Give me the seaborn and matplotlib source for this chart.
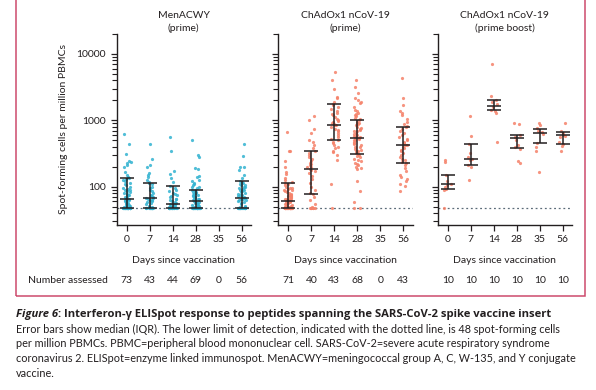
import numpy as np
import pandas as pd
import matplotlib
matplotlib.use('Agg')
import matplotlib.pyplot as plt
import seaborn as sns
from matplotlib.patches import Rectangle
from matplotlib.ticker import LogLocator, FixedLocator, NullFormatter

# Categories / labels
days = ['0', '7', '14', '28', '35', '56']
panel_titles = ['MenACWY\n(prime)', 'ChAdOx1 nCoV-19\n(prime)', 'ChAdOx1 nCoV-19\n(prime boost)']
n_men = [73, 43, 44, 69, 0, 56]
n_prime = [71, 40, 43, 68, 0, 43]
n_boost = [10, 10, 10, 10, 10, 10]
llod = 48

# MenACWY (prime) spot-forming cells per million PBMCs
men_d0 = [628, 433, 312, 245, 235, 225, 210, 200, 165, 150, 141, 135, 130, 125, 120, 115, 110, 105,
          100, 96, 92, 90, 88, 85, 82, 80, 78, 75, 74, 72, 70, 68, 67, 66, 65, 65, 64, 63, 62, 60, 58,
          57, 56, 55, 54, 53, 52, 51, 50, 50, 49] + [48] * 22
men_d7 = [443, 263, 215, 200, 160, 150, 140, 125, 118, 114, 110, 100, 95, 90, 85, 80, 76, 72, 70, 68,
          68, 66, 64, 62, 60, 58, 56, 54, 52, 50, 49] + [48] * 12
men_d14 = [558, 343, 175, 156, 135, 116, 101, 95, 90, 85, 80, 78, 75, 72, 70, 66, 65, 62, 60, 58, 56,
           55, 54, 53, 52, 51, 50, 50, 49] + [48] * 15
men_d28 = [509, 305, 278, 192, 185, 147, 140, 125, 120, 115, 110, 105, 100, 100, 95, 90, 89, 86, 84, 82,
           80, 78, 76, 74, 72, 71, 70, 68, 66, 65, 64, 63, 62, 61, 60, 59, 58, 57, 56, 55, 54, 53, 52,
           51, 50, 50, 49, 49] + [48] * 21
men_d35 = []
men_d56 = [433, 288, 200, 195, 180, 150, 135, 123, 118, 115, 110, 108, 105, 100, 98, 95, 92, 90, 88, 85,
           82, 80, 78, 76, 74, 72, 70, 68, 67, 66, 65, 63, 62, 60, 58, 56, 54, 52, 50, 49] + [48] * 16
men_med = [65, 68, 55, 61, np.nan, 67]
men_q1 = [48, 48, 48, 48, np.nan, 48]
men_q3 = [135, 114, 101, 89, np.nan, 123]

# ChAdOx1 nCoV-19 (prime)
pr_d0 = [665, 351, 340, 248, 200, 167, 155, 137, 125, 118, 115, 110, 105, 100, 97, 95, 92, 90, 88, 85,
         82, 80, 78, 76, 74, 73, 72, 70, 68, 67, 66, 65, 64, 63, 62, 61, 60, 59, 58, 57, 56, 55, 54, 53,
         52, 51, 50, 50, 49, 49] + [48] * 21
pr_d7 = [1150, 1000, 750, 640, 500, 470, 420, 380, 343, 320, 300, 278, 260, 245, 230, 220, 210, 200,
         195, 186, 180, 170, 160, 145, 130, 115, 100, 88, 80, 78, 70, 62, 55, 50] + [48] * 6
pr_d14 = [5400, 4000, 2950, 2250, 2140, 1900, 1790, 1700, 1600, 1500, 1400, 1300, 1250, 1200, 1110,
          1050, 1000, 980, 950, 900, 880, 860, 840, 800, 750, 720, 700, 650, 600, 560, 530, 498, 480,
          450, 420, 400, 380, 350, 330, 300, 250, 110, 48]
pr_d28 = [4000, 3200, 2540, 2200, 2000, 1900, 1800, 1600, 1450, 1400, 1300, 1250, 1200, 1150, 1100,
          1050, 1000, 950, 920, 900, 870, 840, 800, 780, 750, 720, 700, 680, 650, 630, 610, 590, 570,
          555, 545, 530, 510, 500, 480, 460, 440, 420, 400, 390, 370, 360, 350, 340, 330, 320, 313,
          300, 290, 278, 260, 250, 240, 230, 220, 210, 200, 190, 185, 123, 87, 58, 48, 48]
pr_d35 = []
pr_d56 = [4280, 2180, 1730, 1400, 1300, 1200, 1050, 940, 880, 830, 790, 750, 700, 650, 600, 560, 520,
          500, 470, 450, 430, 420, 400, 380, 360, 340, 320, 300, 280, 260, 250, 235, 225, 210, 190,
          170, 150, 140, 130, 120, 110, 103, 85]
pr_med = [61, 183, 860, 550, np.nan, 420]
pr_q1 = [48, 79, 498, 313, np.nan, 225]
pr_q3 = [115, 343, 1790, 1000, np.nan, 790]

# ChAdOx1 nCoV-19 (prime boost)
bo_d0 = [254, 239, 152, 120, 110, 108, 100, 92, 90, 48]
bo_d7 = [1160, 590, 433, 320, 278, 262, 255, 213, 200, 128]
bo_d14 = [7000, 2300, 2050, 1900, 1750, 1600, 1450, 1400, 1300, 470]
bo_d28 = [900, 880, 600, 560, 510, 420, 390, 365, 248, 225]
bo_d35 = [920, 840, 760, 700, 670, 630, 450, 400, 350, 165]
bo_d56 = [920, 680, 640, 600, 590, 560, 470, 440, 410, 340]
bo_med = [110, 260, 1650, 533, 650, 595]
bo_q1 = [92, 213, 1410, 381, 448, 438]
bo_q3 = [152, 433, 2050, 595, 730, 660]

groups = [
    [men_d0, men_d7, men_d14, men_d28, men_d35, men_d56],
    [pr_d0, pr_d7, pr_d14, pr_d28, pr_d35, pr_d56],
    [bo_d0, bo_d7, bo_d14, bo_d28, bo_d35, bo_d56],
]
stats = [(men_med, men_q1, men_q3), (pr_med, pr_q1, pr_q3), (bo_med, bo_q1, bo_q3)]
counts = [n_men, n_prime, n_boost]
colors = ['#33b3d1', '#f5826a', '#f5826a']

rows = []
for p, panel in enumerate(groups):
    for day, vals in zip(days, panel):
        for v in vals:
            rows.append({'panel': p, 'day': day, 'value': v})
df = pd.DataFrame(rows)

sns.set_theme(style='ticks')
plt.rcParams['font.family'] = ['Lato', 'DejaVu Sans']
plt.rcParams['font.size'] = 7.5
ink = '#231f20'

fig = plt.figure(figsize=(5.96, 3.90), dpi=100)
W, H = 596.0, 390.0
lefts = [116.5, 278.0, 437.5]
ax_w, ax_top, ax_bot = 134.5, 34.0, 225.0

np.random.seed(7)
for p in range(3):
    ax = fig.add_axes([lefts[p] / W, 1 - ax_bot / H, ax_w / W, (ax_bot - ax_top) / H])
    sub = df[df['panel'] == p]
    sns.stripplot(data=sub, x='day', y='value', order=days, color=colors[p], jitter=0.17,
                  size=2.3, alpha=0.85, linewidth=0, ax=ax, zorder=2)
    ax.set_yscale('log')
    med, q1, q3 = [np.array(s, dtype=float) for s in stats[p]]
    pos = np.arange(len(days))
    ax.errorbar(pos, med, yerr=[med - q1, q3 - med], fmt='none', ecolor=ink,
                elinewidth=1.1, capsize=5, capthick=1.1, zorder=4)
    ax.plot(pos, med, ls='none', marker='_', ms=10.5, mew=1.1, color=ink, zorder=4)
    ax.axhline(llod, color='#5b6b78', lw=0.9, ls=(0, (1.5, 2.2)), zorder=1)

    ax.set_xlim(-0.45, 5.4)
    ax.set_ylim(26.5, 20000)
    ax.yaxis.set_major_locator(FixedLocator([100, 1000, 10000]))
    ax.yaxis.set_minor_locator(LogLocator(base=10, subs=np.arange(2, 10), numticks=20))
    ax.yaxis.set_minor_formatter(NullFormatter())
    if p == 0:
        ax.set_yticklabels(['100', '1000', '10000'])
        ax.set_ylabel('Spot-forming cells per million PBMCs', fontsize=7.5, color=ink, labelpad=6)
    else:
        ax.set_yticklabels([])
        ax.set_ylabel('')
    ax.set_xlabel('Days since vaccination', fontsize=7.5, color=ink, labelpad=8)
    ax.tick_params(axis='both', which='major', length=4.5, width=0.9, colors=ink,
                   labelsize=7.5, pad=3)
    ax.tick_params(axis='y', which='minor', length=3.5, width=0.8, colors=ink)
    sns.despine(ax=ax)
    for s in ['left', 'bottom']:
        ax.spines[s].set_linewidth(1.0)
        ax.spines[s].set_color(ink)
    ax.text(0.5, 1.004, panel_titles[p], transform=ax.transAxes, ha='center', va='bottom',
            fontsize=7.5, color=ink, linespacing=1.5)
    # number assessed row
    for i, n in enumerate(counts[p]):
        ax.text(i, -0.29, str(n), transform=ax.get_xaxis_transform(), ha='center',
                va='center', fontsize=7.5, color=ink)

fig.text(28 / W, 1 - 280.5 / H, 'Number assessed', ha='left', va='center', fontsize=7.5, color=ink)

# frame around the figure panel
fig.patches.append(Rectangle((16 / W, 1 - 296 / H), (585 - 16) / W, 296 / H + 0.05,
                             transform=fig.transFigure, fill=False, edgecolor='#cd4a6c',
                             lw=1.1, clip_on=False))

# caption
cap_font = ['Lato', 'DejaVu Sans']
head_font = ['Open Sans', 'Lato', 'DejaVu Sans']
cap_size = 7.85
head_size = 8.15
x0 = 16 / W
t1 = fig.text(x0, 1 - 314 / H, 'Figure 6', ha='left', va='center', fontsize=head_size,
              fontstyle='italic', fontweight='bold', family=head_font, color=ink)
fig.canvas.draw()
bb = t1.get_window_extent()
fig.text(bb.x1 / W, 1 - 314 / H,
         ': Interferon-\u03b3 ELISpot response to peptides spanning the SARS-CoV-2 spike vaccine insert',
         ha='left', va='center', fontsize=head_size, fontweight='bold', family=head_font, color=ink)
cap_lines = [
    'Error bars show median (IQR). The lower limit of detection, indicated with the dotted line, is 48 spot-forming cells',
    'per million PBMCs. PBMC=peripheral blood mononuclear cell. SARS-CoV-2=severe acute respiratory syndrome',
    'coronavirus 2. ELISpot=enzyme linked immunospot. MenACWY=meningococcal group A, C, W-135, and Y conjugate',
    'vaccine.',
]
for k, line in enumerate(cap_lines):
    fig.text(x0, 1 - (329 + 14.8 * k) / H, line, ha='left', va='center', fontsize=cap_size,
             family=cap_font, color=ink)

fig.savefig('out.png', dpi=100)
